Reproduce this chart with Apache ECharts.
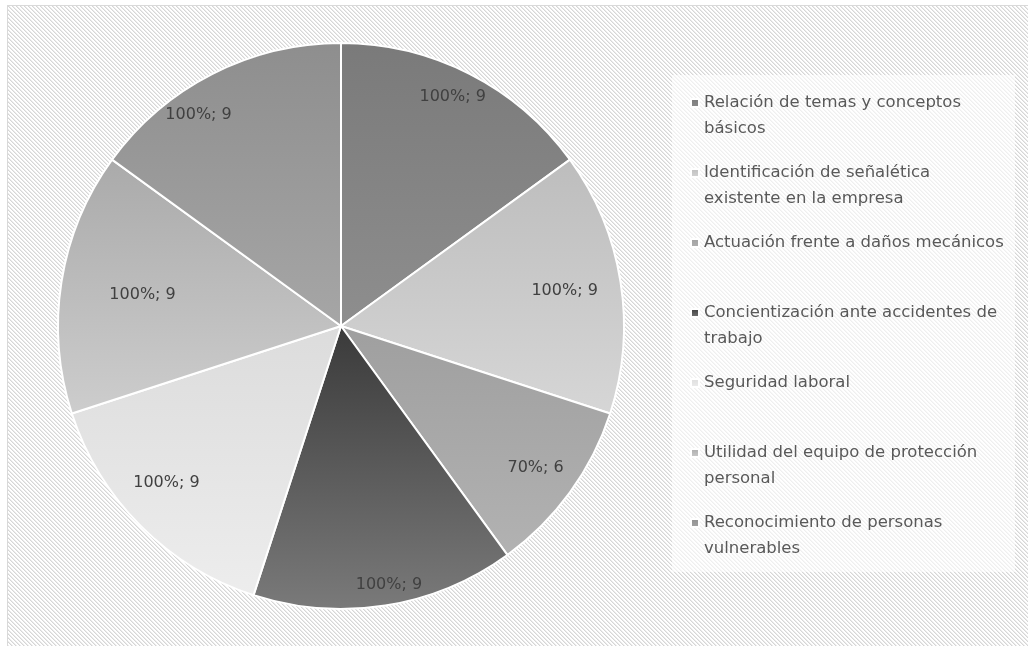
<!DOCTYPE html>
<html>
<head>
<meta charset="utf-8">
<script src="https://cdn.jsdelivr.net/npm/echarts@6/dist/echarts.min.js"></script>
<style>
  html, body { margin: 0; padding: 0; background: #fff; }
  #main {
    position: absolute; left: 7px; top: 5px; width: 1021px; height: 641px;
    border-left: 1px solid #d9d9d9; border-top: 1px solid #d9d9d9;
  }
</style>
</head>
<body>
<div id="main"></div>
<script>
var categories = [
    'Relación de temas y conceptos básicos',
    'Identificación de señalética existente en la empresa',
    'Actuación frente a daños mecánicos',
    'Concientización ante accidentes de trabajo',
    'Seguridad laboral',
    'Utilidad del equipo de protección personal',
    'Reconocimiento de personas vulnerables'
];
var counts = [9, 9, 6, 9, 9, 9, 9];
var percents = ['100%', '100%', '70%', '100%', '100%', '100%', '100%'];

// gradient top / bottom per slice
var colorTop = ['#7a7a7a', '#bdbdbd', '#9f9f9f', '#3a3a3a', '#dcdcdc', '#aaaaaa', '#8e8e8e'];
var colorBottom = ['#8e8e8e', '#d6d6d6', '#b2b2b2', '#7a7a7a', '#ededed', '#cdcdcd', '#a6a6a6'];
// label distance from centre (part of radius) and turn from the slice middle (deg)
var labelDist = [0.90, 0.80, 0.85, 0.93, 0.83, 0.71, 0.90];
var labelTurn = [-1, 0, 0, -1.5, 3, 0, -7];

var cx = 333, cy = 320, R = 283;

// diagonal hatch tile for the chart background
function hatchTile() {
    var c = document.createElement('canvas');
    c.width = 4; c.height = 4;
    var ctx = c.getContext('2d');
    ctx.fillStyle = '#ffffff';
    ctx.fillRect(0, 0, 4, 4);
    for (var i = 0; i < 4; i++) {
        ctx.fillStyle = '#d6d6d6';
        ctx.fillRect(i, i, 1, 1);
        ctx.fillStyle = '#ebebeb';
        ctx.fillRect((i + 1) % 4, i, 1, 1);
    }
    return c.toDataURL();
}
document.getElementById('main').style.background = 'url(' + hatchTile() + ') repeat';

function wrap(text, limit) {
    var words = text.split(' ');
    var lines = [];
    var cur = '';
    words.forEach(function (w) {
        if (cur && (cur + ' ' + w).length > limit) {
            lines.push(cur);
            cur = w;
        } else {
            cur = cur ? cur + ' ' + w : w;
        }
    });
    lines.push(cur);
    if (lines.length < 2) lines.push(' ');
    // empty first line so the icon sits next to the first real line
    return ' \n' + lines.join('\n');
}

var chartDom = document.getElementById('main');
var myChart = echarts.init(chartDom);

var pieData = categories.map(function (name, i) {
    return {
        name: name,
        value: counts[i],
        itemStyle: {
            color: new echarts.graphic.LinearGradient(0, 0, 0, 1, [
                { offset: 0, color: colorTop[i] },
                { offset: 1, color: colorBottom[i] }
            ])
        }
    };
});

var option = {
    animation: false,
    graphic: [
        {
            type: 'rect',
            left: 664,
            top: 69,
            z: -1,
            shape: { width: 343, height: 497 },
            style: { fill: 'rgba(255,255,255,0.6)' }
        }
    ],
    legend: {
        orient: 'vertical',
        left: 682,
        top: 58,
        padding: 0,
        itemGap: -8,
        itemWidth: 8,
        itemHeight: 8,
        icon: 'rect',
        formatter: function (name) {
            return wrap(name, 34);
        },
        textStyle: {
            fontFamily: 'DejaVu Sans',
            fontSize: 16.5,
            color: '#595959',
            lineHeight: 26
        }
    },
    series: [
        {
            type: 'pie',
            center: [cx, cy],
            radius: [0, R],
            startAngle: 90,
            clockwise: true,
            avoidLabelOverlap: false,
            itemStyle: {
                borderColor: '#ffffff',
                borderWidth: 2
            },
            label: {
                show: true,
                position: 'inside',
                fontFamily: 'DejaVu Sans',
                fontSize: 16,
                color: '#404040',
                formatter: function (p) {
                    return percents[p.dataIndex] + '; ' + p.value;
                }
            },
            labelLayout: function (params) {
                var r = params.labelRect;
                var lx = r.x + r.width / 2 - cx;
                var ly = r.y + r.height / 2 - cy;
                var a = Math.atan2(ly, lx) + labelTurn[params.dataIndex] * Math.PI / 180;
                var d = labelDist[params.dataIndex] * R;
                return {
                    x: cx + Math.cos(a) * d,
                    y: cy + Math.sin(a) * d,
                    align: 'center',
                    verticalAlign: 'middle'
                };
            },
            labelLine: { show: false },
            emphasis: { disabled: true },
            data: pieData
        }
    ]
};
myChart.setOption(option);
</script>
</body>
</html>
